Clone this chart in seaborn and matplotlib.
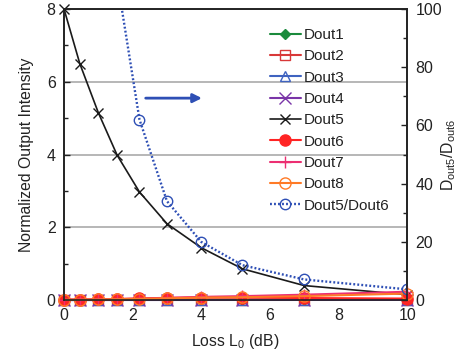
import numpy as np
import pandas as pd
import matplotlib
matplotlib.use("Agg")
import matplotlib.pyplot as plt
import seaborn as sns

sns.set_theme(style="white")
plt.rcParams['font.family'] = ['Liberation Sans', 'DejaVu Sans']
plt.rcParams['mathtext.fontset'] = 'custom'
plt.rcParams['mathtext.rm'] = 'Liberation Sans'
plt.rcParams['mathtext.it'] = 'Liberation Sans'

loss = [0.0, 0.46, 1.0, 1.55, 2.2, 3.0, 4.0, 5.2, 7.0, 10.0]
dout1 = [0.004, 0.004, 0.005, 0.005, 0.006, 0.006, 0.007, 0.007, 0.008, 0.008]
dout2 = [0.005, 0.005, 0.006, 0.006, 0.007, 0.008, 0.009, 0.01, 0.011, 0.012]
dout3 = [0.003, 0.003, 0.004, 0.004, 0.005, 0.005, 0.006, 0.006, 0.007, 0.007]
dout4 = [0.002, 0.002, 0.002, 0.003, 0.003, 0.003, 0.004, 0.004, 0.004, 0.005]
dout5 = [8.0, 6.5, 5.15, 3.98, 2.97, 2.10, 1.44, 0.86, 0.40, 0.15]
dout6 = [0.01, 0.015, 0.02, 0.03, 0.048, 0.062, 0.072, 0.07, 0.058, 0.043]
dout7 = [0.01, 0.015, 0.02, 0.03, 0.04, 0.06, 0.09, 0.11, 0.15, 0.23]
dout8 = [0.01, 0.012, 0.018, 0.025, 0.035, 0.05, 0.07, 0.08, 0.11, 0.18]
ratio = [np.nan, np.nan, np.nan, 110.0, 62.0, 34.0, 20.0, 12.0, 7.1, 3.7]

names = ["Dout1", "Dout2", "Dout3", "Dout4", "Dout5", "Dout6", "Dout7", "Dout8"]
series = [dout1, dout2, dout3, dout4, dout5, dout6, dout7, dout8]
colors = ["#1a8a3c", "#d83838", "#3f63c0", "#7a35a8", "#1a1a1a", "#ff2424", "#ec2f72", "#ff7a26"]
markers = ["D", "s", "^", "x", "x", "o", "+", "o"]
mfaces = ["#1a8a3c", "none", "none", "#7a35a8", "#1a1a1a", "#ff2424", "#ec2f72", "none"]
msizes = [5, 7, 7, 8, 7, 8, 9, 8]
lwidths = [1.5, 1.5, 1.5, 1.5, 1.2, 1.5, 1.5, 1.5]

fig = plt.figure(figsize=(4.72, 3.59), dpi=100)
ax = fig.add_axes([0.1356, 0.164, 0.727, 0.811])
ax2 = ax.twinx()

order = [0, 1, 2, 3, 4, 7, 6, 5]
for i in order:
    df = pd.DataFrame({"x": loss, "y": series[i]})
    sns.lineplot(data=df, x="x", y="y", ax=ax, color=colors[i], marker=markers[i],
                 markersize=msizes[i], markerfacecolor=mfaces[i], markeredgecolor=colors[i],
                 markeredgewidth=1.0, linewidth=lwidths[i], sort=False, label=names[i],
                 clip_on=False, zorder=3 + i * 0.1)

dfr = pd.DataFrame({"x": loss, "y": ratio})
sns.lineplot(data=dfr, x="x", y="y", ax=ax2, color="#2e4fb5", marker="o",
             markersize=7.5, markerfacecolor="none", markeredgecolor="#2e4fb5",
             markeredgewidth=1.0, linestyle=(0, (0.8, 0.9)), linewidth=1.7, sort=False,
             label="Dout5/Dout6")

ax.set_xlim(0, 10)
ax.set_ylim(0, 8)
ax2.set_ylim(0, 100)
ax.set_xticks([0, 2, 4, 6, 8, 10])
ax.set_xticks([1, 3, 5, 7, 9], minor=True)
ax.set_yticks([0, 2, 4, 6, 8])
ax.set_yticks([1, 3, 5, 7], minor=True)
ax2.set_yticks([0, 20, 40, 60, 80, 100])
ax2.set_yticks([10, 30, 50, 70, 90], minor=True)

for a in (ax, ax2):
    a.tick_params(which="major", direction="in", length=4, width=1, colors="#222222",
                  labelsize=11.5, labelcolor="#222222")
    a.tick_params(which="minor", direction="in", length=3, width=1, colors="#222222")
    for s in a.spines.values():
        s.set_color("#222222")
        s.set_linewidth(1.2)
ax.tick_params(axis="both", pad=6)
ax2.tick_params(axis="y", pad=6)

ax.yaxis.grid(True, which="major", color="#aaaaaa", linewidth=1.2)
ax.set_axisbelow(True)

ax.set_xlabel("Loss L$_0$ (dB)", fontsize=11.3, color="#222222", labelpad=6)
ax.set_ylabel("Normalized Output Intensity", fontsize=11.3, color="#222222", labelpad=9)
ax2.set_ylabel(r"D$_{\mathrm{out5}}$/D$_{\mathrm{out6}}$", fontsize=11.3, color="#222222", labelpad=-2)

ax.annotate("", xy=(4.1, 5.55), xytext=(2.3, 5.55),
            arrowprops=dict(arrowstyle="-|>", color="#2e4fb5", lw=2.0, mutation_scale=13))

h1, l1 = ax.get_legend_handles_labels()
h2, l2 = ax2.get_legend_handles_labels()
hd = dict(zip(l1 + l2, h1 + h2))
labs = names + ["Dout5/Dout6"]
if ax.get_legend():
    ax.get_legend().remove()
if ax2.get_legend():
    ax2.get_legend().remove()
ax2.legend([hd[l] for l in labs], labs, loc="upper left", bbox_to_anchor=(0.6006, 0.935),
           frameon=False, fontsize=11, labelspacing=0.48, handlelength=2.0,
           handletextpad=0.2, borderaxespad=0.0, borderpad=0.0, labelcolor="#222222")

fig.savefig("out.png", dpi=100)
